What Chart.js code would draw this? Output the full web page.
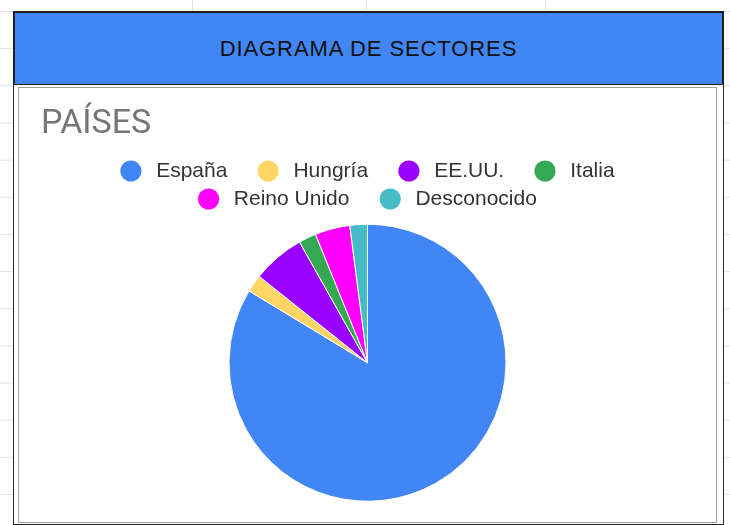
<!DOCTYPE html>
<html>
<head>
<meta charset="utf-8">
<script src="https://cdn.jsdelivr.net/npm/chart.js@4/dist/chart.umd.min.js"></script>
<style>
  html, body { margin: 0; padding: 0; }
  body {
    width: 730px; height: 525px; overflow: hidden; position: relative; background: #fff;
    background-image: linear-gradient(#e2e2e2 1px, transparent 1px);
    background-size: 100% 37.16px;
    background-position: 0 11px;
  }
  .vline { position: absolute; top: 0; width: 1px; height: 12px; background: #e2e2e2; }
  #header {
    position: absolute; left: 13px; top: 11px; width: 711px; height: 75px; box-sizing: border-box;
    background: #4285f4; border: 2px solid #1f1f1f;
    display: flex; align-items: center; justify-content: center;
    font: 22px "Liberation Sans", Arial, sans-serif; letter-spacing: 0.9px; color: #111;
  }
  #frame {
    position: absolute; left: 13px; top: 85px; width: 711px; height: 440px; box-sizing: border-box;
    border: 1.5px solid #2a2a2a; border-top: none; background: #fff;
  }
  #box {
    position: absolute; left: 18px; top: 87px; width: 699px; height: 436px; box-sizing: border-box;
    border: 1px solid #a0a0a0; background: #fff;
  }
  #wrap { position: absolute; left: 19px; top: 88px; width: 697px; height: 433px; }
</style>
</head>
<body>
<div class="vline" style="left:192px"></div>
<div class="vline" style="left:366px"></div>
<div class="vline" style="left:545px"></div>
<div id="header">DIAGRAMA DE SECTORES</div>
<div id="frame"></div>
<div id="box"></div>
<div id="wrap"><canvas id="pieChart"></canvas></div>
<script>
// valores (número de respuestas por país)
const paises = ['España', 'Hungría', 'EE.UU.', 'Italia', 'Reino Unido', 'Desconocido'];
const respuestas = [41, 1, 3, 1, 2, 1];
const colores = ['#4285f4', '#ffd666', '#9900ff', '#34a853', '#ff00ff', '#46bdc6'];

// last item of each legend row gets no extra gap after it
const finDeFila = [3, 5];

const ctx = document.getElementById('pieChart').getContext('2d');

new Chart(ctx, {
    type: 'pie',
    data: {
        labels: paises,
        datasets: [{
            data: respuestas,
            backgroundColor: colores,
            borderColor: '#ffffff',
            borderWidth: 1,
            radius: 138.5
        }]
    },
    options: {
        responsive: true,
        maintainAspectRatio: false,
        animation: false,
        layout: { padding: { left: 22, right: 22, top: 15.6, bottom: 15 } },
        plugins: {
            title: {
                display: true,
                text: 'PAÍSES',
                align: 'start',
                color: '#757575',
                font: { family: 'Roboto', size: 34, weight: 'normal', lineHeight: 1.2 },
                padding: { top: 0, bottom: 9.1 }
            },
            legend: {
                position: 'top',
                labels: {
                    usePointStyle: true,
                    pointStyle: 'circle',
                    boxHeight: 15,
                    padding: 7,
                    color: '#333333',
                    font: { family: 'Liberation Sans', size: 21 },
                    generateLabels: function(chart) {
                        const items = Chart.overrides.pie.plugins.legend.labels.generateLabels(chart);
                        items.forEach(function(it, i) {
                            it.text = '\u2009' + it.text + (finDeFila.includes(i) ? '' : '    ');
                            it.lineWidth = 0;
                        });
                        return items;
                    }
                }
            },
            tooltip: { enabled: false }
        }
    }
});
</script>
</body>
</html>
